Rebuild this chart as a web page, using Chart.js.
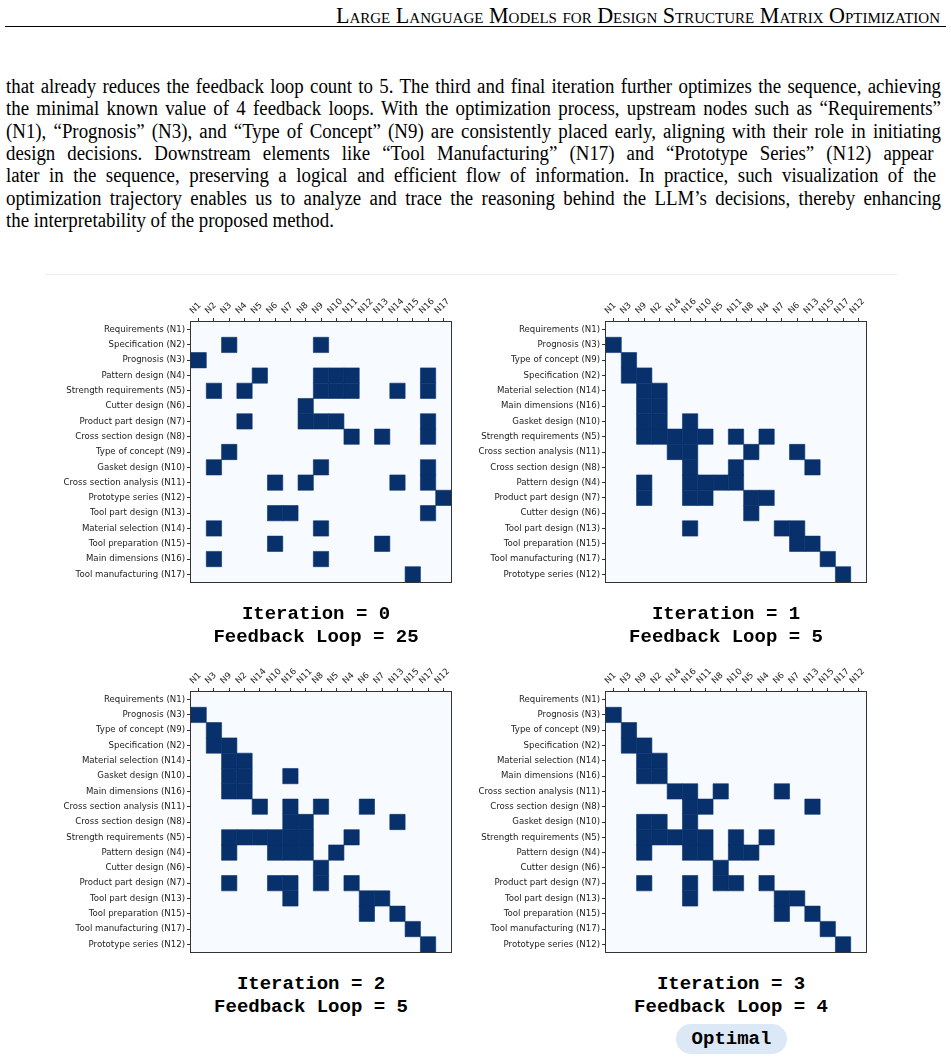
<!DOCTYPE html>
<html>
<head>
<meta charset="utf-8">
<script src="https://cdn.jsdelivr.net/npm/chart.js@4.4.1/dist/chart.umd.min.js"></script>
<style>
  html, body { margin: 0; padding: 0; background: #fff; }
  body { width: 951px; height: 1060px; position: relative; overflow: hidden; }
  .header { position: absolute; top: 5px; right: 11px; font-family: "Liberation Serif", "Times New Roman", serif;
            font-variant: small-caps; font-size: 17px; line-height: 1; white-space: nowrap; color: #000; }
  .rule { position: absolute; left: 5px; width: 941px; top: 26px; height: 1px; background: #000; }
  .line { position: absolute; left: 6px; font-family: "Liberation Serif", "Times New Roman", serif;
          font-size: 20.5px; line-height: 1; white-space: nowrap; color: #000; transform-origin: left top; }
  .figrule { position: absolute; left: 45px; width: 852px; top: 274px; height: 1px; background: #ececec; }
  canvas { position: absolute; }
  .cap { position: absolute; width: 300px; text-align: center; font-family: "Liberation Mono", "Courier New", monospace;
         font-weight: bold; font-size: 19px; line-height: 23px; color: #000; white-space: pre; }
  .pill { position: absolute; width: 111px; height: 30px; border-radius: 15px; background: #dce8f5;
          font-family: "Liberation Mono", "Courier New", monospace; font-weight: bold; font-size: 19px;
          line-height: 30px; text-align: center; color: #000; }
</style>
</head>
<body>
<div class="header" id="header">Large Language Models for Design Structure Matrix Optimization</div>
<div class="rule"></div>
<div id="para"></div>
<div class="figrule"></div>

<canvas id="dsm0" width="450" height="311"></canvas>
<canvas id="dsm1" width="450" height="311"></canvas>
<canvas id="dsm2" width="450" height="311"></canvas>
<canvas id="dsm3" width="450" height="311"></canvas>

<div class="cap" style="left:166px; top:603px;">Iteration = 0
Feedback Loop = 25</div>
<div class="cap" style="left:576px; top:603px;">Iteration = 1
Feedback Loop = 5</div>
<div class="cap" style="left:161px; top:973px;">Iteration = 2
Feedback Loop = 5</div>
<div class="cap" style="left:581px; top:973px;">Iteration = 3
Feedback Loop = 4</div>
<div class="pill" style="left:676px; top:1024px;">Optimal</div>

<script>
// node ids and names
const nodeIds = ["N1", "N2", "N3", "N4", "N5", "N6", "N7", "N8", "N9", "N10", "N11", "N12", "N13", "N14", "N15", "N16", "N17"];
const nodeNames = ["Requirements", "Specification", "Prognosis", "Pattern design", "Strength requirements",
    "Cutter design", "Product part design", "Cross section design", "Type of concept", "Gasket design",
    "Cross section analysis", "Prototype series", "Tool part design", "Material selection",
    "Tool preparation", "Main dimensions", "Tool manufacturing"];

// marked cells of each row (N1..N17)
const dependsOn = [
    [],
    ["N3", "N9"],
    ["N1"],
    ["N5", "N9", "N10", "N11", "N16"],
    ["N2", "N4", "N9", "N10", "N11", "N14", "N16"],
    ["N8"],
    ["N4", "N8", "N9", "N10", "N16"],
    ["N11", "N13", "N16"],
    ["N3"],
    ["N2", "N9", "N16"],
    ["N6", "N8", "N14", "N16"],
    ["N17"],
    ["N6", "N7", "N16"],
    ["N2", "N9"],
    ["N6", "N13"],
    ["N2", "N9"],
    ["N15"]
];

// node sequence of each iteration
const order0 = ["N1", "N2", "N3", "N4", "N5", "N6", "N7", "N8", "N9", "N10", "N11", "N12", "N13", "N14", "N15", "N16", "N17"];
const order1 = ["N1", "N3", "N9", "N2", "N14", "N16", "N10", "N5", "N11", "N8", "N4", "N7", "N6", "N13", "N15", "N17", "N12"];
const order2 = ["N1", "N3", "N9", "N2", "N14", "N10", "N16", "N11", "N8", "N5", "N4", "N6", "N7", "N13", "N15", "N17", "N12"];
const order3 = ["N1", "N3", "N9", "N2", "N14", "N16", "N11", "N8", "N10", "N5", "N4", "N6", "N7", "N13", "N15", "N17", "N12"];

const paraLines = [
    "that already reduces the feedback loop count to 5. The third and final iteration further optimizes the sequence, achieving",
    "the minimal known value of 4 feedback loops. With the optimization process, upstream nodes such as \u201cRequirements\u201d",
    "(N1), \u201cPrognosis\u201d (N3), and \u201cType of Concept\u201d (N9) are consistently placed early, aligning with their role in initiating",
    "design decisions.  Downstream elements like \u201cTool Manufacturing\u201d (N17) and \u201cPrototype Series\u201d (N12) appear",
    "later in the sequence, preserving a logical and efficient flow of information.  In practice, such visualization of the",
    "optimization trajectory enables us to analyze and trace the reasoning behind the LLM\u2019s decisions, thereby enhancing",
    "the interpretability of the proposed method."
];

// text block: slightly condensed glyphs, justified lines
const SQUEEZE = 0.92, LINE_W = 935;
const para = document.getElementById("para");
paraLines.forEach((txt, i) => {
    const d = document.createElement("div");
    d.className = "line";
    d.style.top = (76 + i * 22.3) + "px";
    d.textContent = txt;
    para.appendChild(d);
    const w = d.getBoundingClientRect().width;
    let scale = SQUEEZE;
    if (i < paraLines.length - 1) {
        const gaps = txt.split(" ").length - 1;
        const extra = LINE_W / SQUEEZE - w;
        if (extra >= 0) {
            d.style.wordSpacing = (extra / gaps) + "px";
        } else {
            scale = LINE_W / w;
        }
    }
    d.style.transform = "scaleX(" + scale + ")";
});
const hdr = document.getElementById("header");
hdr.style.fontSize = (17 * 622 / hdr.getBoundingClientRect().width) + "px";

function rowLabel(id) {
    return nodeNames[nodeIds.indexOf(id)] + " (" + id + ")";
}

function cellsFor(order) {
    const pts = [];
    order.forEach(rowId => {
        dependsOn[nodeIds.indexOf(rowId)].forEach(colId => {
            pts.push({ x: colId, y: rowLabel(rowId) });
        });
    });
    return pts;
}

const frame = {
    id: "frame",
    beforeDraw(chart) {
        const a = chart.chartArea, ctx = chart.ctx;
        ctx.save();
        ctx.fillStyle = "#f7fbff";
        ctx.fillRect(a.left, a.top, a.right - a.left, a.bottom - a.top);
        ctx.restore();
    },
    afterDraw(chart) {
        const a = chart.chartArea, ctx = chart.ctx;
        ctx.save();
        ctx.strokeStyle = "#333";
        ctx.lineWidth = 1;
        ctx.strokeRect(a.left - 0.5, a.top - 0.5, a.right - a.left + 1, a.bottom - a.top + 1);
        ctx.restore();
    }
};

const AXIS_W = 160, AXIS_H = 45;
const tickFont = { family: "DejaVu Sans", size: 8.6 };

function drawDSM(id, left, top, order) {
    const canvas = document.getElementById(id);
    canvas.style.left = left + "px";
    canvas.style.top = top + "px";

    const cellRadius = (c) => {
        const s = c.chart.scales.x;
        return Math.abs(s.getPixelForValue(1) - s.getPixelForValue(0)) / Math.SQRT2;
    };

    new Chart(canvas.getContext("2d"), {
        type: "scatter",
        data: {
            datasets: [{
                data: cellsFor(order),
                pointStyle: "rect",
                backgroundColor: "#08306b",
                borderColor: "#08306b",
                borderWidth: 0.6,
                pointRadius: cellRadius,
                pointHoverRadius: cellRadius
            }]
        },
        options: {
            responsive: false,
            animation: false,
            events: [],
            layout: { padding: { left: 0, top: 0, right: 30, bottom: 6 } },
            plugins: { legend: { display: false }, tooltip: { enabled: false } },
            scales: {
                x: {
                    type: "category",
                    position: "top",
                    labels: order,
                    offset: true,
                    grid: { offset: false, drawOnChartArea: false, drawTicks: true, tickLength: 4, color: "#333" },
                    border: { display: false },
                    ticks: { autoSkip: false, minRotation: 45, maxRotation: 45, padding: 2, font: tickFont, color: "#222" },
                    afterFit: s => { s.height = AXIS_H; s.paddingLeft = 0; s.paddingRight = 0; }
                },
                y: {
                    type: "category",
                    labels: order.map(rowLabel),
                    offset: true,
                    grid: { offset: false, drawOnChartArea: false, drawTicks: true, tickLength: 4, color: "#333" },
                    border: { display: false },
                    ticks: { autoSkip: false, padding: 2, font: tickFont, color: "#222" },
                    afterFit: s => { s.width = AXIS_W; s.paddingTop = 0; s.paddingBottom = 0; }
                }
            }
        },
        plugins: [frame]
    });
}

drawDSM("dsm0", 31, 277, order0);
drawDSM("dsm1", 446, 277, order1);
drawDSM("dsm2", 31, 647, order2);
drawDSM("dsm3", 446, 647, order3);
</script>
</body>
</html>
